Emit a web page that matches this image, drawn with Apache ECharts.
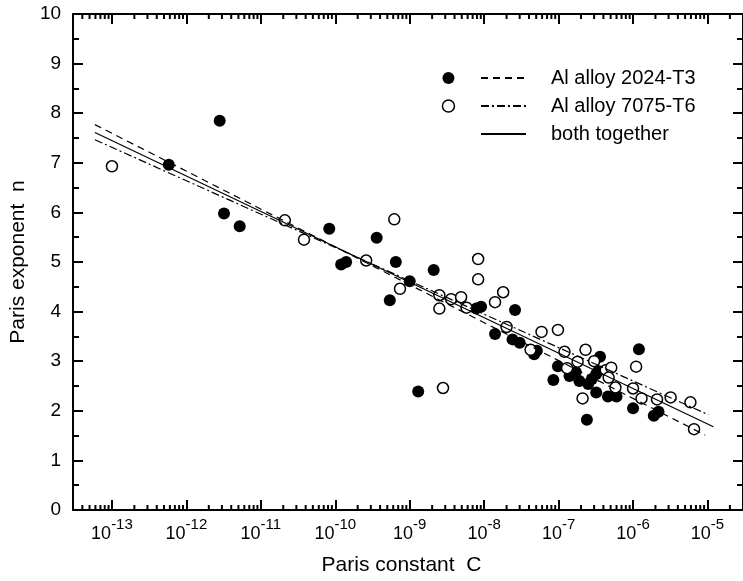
<!DOCTYPE html>
<html>
<head>
<meta charset="utf-8">
<script src="https://cdn.jsdelivr.net/npm/echarts@6/dist/echarts.min.js"></script>
<style>
  html, body { margin: 0; padding: 0; background: #fff; }
  #chart { width: 743px; height: 581px; }
</style>
</head>
<body>
<div id="chart"></div>
<script>
// Al alloy 2024-T3 (filled circles): Paris constant C and exponent n
const c2024 = [5.8e-13, 2.8e-12, 3.2e-12, 5.2e-12, 8.3e-11, 1.2e-10, 1.4e-10, 3.6e-10, 6.5e-10, 2.1e-9,
  1.0e-9, 5.4e-10, 7.8e-9, 9.1e-9, 1.4e-8, 2.4e-8, 3.0e-8, 2.6e-8, 1.3e-9, 4.7e-8,
  5.1e-8, 8.5e-8, 9.8e-8, 1.4e-7, 1.9e-7, 1.7e-7, 2.5e-7, 2.8e-7, 3.2e-7, 3.4e-7,
  3.6e-7, 3.2e-7, 2.4e-7, 4.6e-7, 6.0e-7, 1.2e-6, 1.0e-6, 1.9e-6, 2.2e-6];
const n2024 = [6.96, 7.85, 5.98, 5.72, 5.67, 4.95, 5.00, 5.49, 5.00, 4.84,
  4.61, 4.23, 4.06, 4.10, 3.55, 3.44, 3.37, 4.03, 2.39, 3.14,
  3.21, 2.62, 2.90, 2.70, 2.60, 2.78, 2.54, 2.64, 2.74, 2.80,
  3.09, 2.37, 1.82, 2.29, 2.29, 3.24, 2.05, 1.90, 1.98];

// Al alloy 7075-T6 (open circles)
const c7075 = [1.0e-13, 2.1e-11, 3.8e-11, 2.6e-10, 6.2e-10, 7.4e-10, 2.5e-9, 3.6e-9, 4.9e-9, 2.5e-9,
  5.8e-9, 8.3e-9, 8.3e-9, 1.8e-8, 1.4e-8, 2.0e-8, 2.8e-9, 5.9e-8, 9.8e-8, 4.2e-8,
  1.2e-7, 1.3e-7, 1.8e-7, 2.3e-7, 3.0e-7, 2.1e-7, 4.3e-7, 5.1e-7, 4.7e-7, 5.8e-7,
  1.1e-6, 1.0e-6, 1.3e-6, 2.1e-6, 3.2e-6, 5.9e-6, 6.6e-6];
const n7075 = [6.93, 5.84, 5.45, 5.03, 5.86, 4.46, 4.33, 4.25, 4.29, 4.06,
  4.08, 5.06, 4.65, 4.39, 4.19, 3.69, 2.46, 3.59, 3.63, 3.23,
  3.19, 2.86, 2.99, 3.23, 3.00, 2.25, 2.82, 2.87, 2.67, 2.47,
  2.89, 2.45, 2.25, 2.23, 2.27, 2.17, 1.63];

// regression lines, end points
const fit2024C = [5.9e-14, 9.3e-6];
const fit2024N = [7.77, 1.51];
const fit7075C = [5.9e-14, 1.03e-5];
const fit7075N = [7.465, 1.92];
const fitBothC = [5.9e-14, 1.2e-5];
const fitBothN = [7.61, 1.68];

const xMin = 3e-14;
const xMax = 3e-5;
const minorMultipliers = [2, 3, 4, 5, 6, 7, 8, 9];
const decades = [1e-14, 1e-13, 1e-12, 1e-11, 1e-10, 1e-9, 1e-8, 1e-7, 1e-6, 1e-5];

const name2024 = "Al alloy 2024-T3";
const name7075 = "Al alloy 7075-T6";
const nameBoth = "both together";

const font = "'Liberation Sans', Arial, sans-serif";

function zip(xs, ys) {
  return xs.map((x, i) => [x, ys[i]]);
}

const minorTicks = [];
decades.forEach((d) => {
  minorMultipliers.forEach((m) => {
    const v = m * d;
    if (v > xMin * 1.01 && v < xMax * 0.99) {
      minorTicks.push([v, 0]);
    }
  });
});

function xAxisBase(position) {
  return {
    type: "log",
    logBase: 10,
    min: xMin,
    max: xMax,
    splitNumber: 9,
    position,
    axisLine: { onZero: false, lineStyle: { color: "#000", width: 2 } },
    axisTick: { inside: true, length: 10, lineStyle: { color: "#000", width: 2 } },
    splitLine: { show: false },
    minorTick: { show: false },
    minorSplitLine: { show: false },
  };
}

function yAxisBase(position) {
  return {
    type: "value",
    min: 0,
    max: 10,
    interval: 1,
    position,
    axisLine: { onZero: false, lineStyle: { color: "#000", width: 2 } },
    axisTick: { inside: true, length: 10, lineStyle: { color: "#000", width: 2 } },
    minorTick: { show: true, splitNumber: 2, length: 6, lineStyle: { color: "#000", width: 2 } },
    splitLine: { show: false },
  };
}

const chart = echarts.init(document.getElementById("chart"));

chart.setOption({
  animation: false,
  backgroundColor: "#fff",
  textStyle: { fontFamily: font, color: "#000" },
  grid: { left: 70.7, top: 14, width: 675.8, height: 497, containLabel: false },
  xAxis: [
    Object.assign(xAxisBase("bottom"), {
      name: "Paris constant  C",
      nameLocation: "middle",
      nameGap: 45,
      nameTextStyle: { fontFamily: font, fontSize: 21, color: "#000", padding: [0, 13, 0, 0] },
      axisLabel: {
        margin: 7,
        showMinLabel: false,
        showMaxLabel: false,
        formatter: (v) => "{b|10}{s|" + Math.round(Math.log10(v)) + "}",
        rich: {
          b: { fontFamily: font, fontSize: 18, color: "#000" },
          s: { fontFamily: font, fontSize: 15, color: "#000", padding: [0, 0, 20, 0] },
        },
      },
    }),
    Object.assign(xAxisBase("top"), { axisLabel: { show: false } }),
  ],
  yAxis: [
    Object.assign(yAxisBase("left"), {
      name: "Paris exponent  n",
      nameLocation: "middle",
      nameGap: 44,
      nameTextStyle: { fontFamily: font, fontSize: 21, color: "#000" },
      axisLabel: { margin: 12, fontFamily: font, fontSize: 19, color: "#000" },
    }),
    Object.assign(yAxisBase("right"), { axisLabel: { show: false } }),
  ],
  legend: [
    {
      orient: "vertical",
      left: 441.7,
      top: 64,
      padding: 0,
      itemGap: 0,
      itemWidth: 12,
      itemHeight: 12,
      selectedMode: false,
      formatter: () => " ",
      textStyle: { fontFamily: font, fontSize: 20, lineHeight: 28 },
      data: [
        { name: name2024 + " data", icon: "circle", itemStyle: { color: "#000" } },
        { name: name7075 + " data", icon: "circle", itemStyle: { color: "#fff", borderColor: "#000", borderWidth: 1.5 } },
      ],
    },
    {
      orient: "vertical",
      left: 480,
      top: 64,
      padding: 0,
      itemGap: 0,
      itemWidth: 45,
      itemHeight: 12,
      selectedMode: false,
      itemStyle: { opacity: 0 },
      textStyle: { fontFamily: font, fontSize: 20, lineHeight: 28, color: "#000", padding: [0, 0, 0, 20] },
      data: [name2024, name7075, nameBoth],
    },
  ],
  series: [
    {
      type: "custom",
      silent: true,
      clip: false,
      data: minorTicks,
      renderItem: (params, api) => {
        const c = api.value(0);
        const b = api.coord([c, 0]);
        const t = api.coord([c, 10]);
        return {
          type: "group",
          children: [
            { type: "line", shape: { x1: b[0], y1: b[1], x2: b[0], y2: b[1] - 5 }, style: { stroke: "#000", lineWidth: 2 } },
            { type: "line", shape: { x1: t[0], y1: t[1], x2: t[0], y2: t[1] + 5 }, style: { stroke: "#000", lineWidth: 2 } },
          ],
        };
      },
    },
    {
      name: name2024,
      type: "line",
      symbol: "none",
      color: "#000",
      data: zip(fit2024C, fit2024N),
      lineStyle: { color: "#000", width: 1.2, type: [7, 5] },
    },
    {
      name: name7075,
      type: "line",
      symbol: "none",
      color: "#000",
      data: zip(fit7075C, fit7075N),
      lineStyle: { color: "#000", width: 1.2, type: [8, 3, 2, 3] },
    },
    {
      name: nameBoth,
      type: "line",
      symbol: "none",
      color: "#000",
      data: zip(fitBothC, fitBothN),
      lineStyle: { color: "#000", width: 1.2, type: "solid" },
    },
    {
      name: name2024 + " data",
      type: "scatter",
      symbol: "circle",
      symbolSize: 12,
      data: zip(c2024, n2024),
      itemStyle: { color: "#000", opacity: 1 },
    },
    {
      name: name7075 + " data",
      type: "scatter",
      symbol: "circle",
      symbolSize: 11,
      data: zip(c7075, n7075),
      itemStyle: { color: "#fff", borderColor: "#000", borderWidth: 1.5, opacity: 1 },
    },
  ],
});
</script>
</body>
</html>
